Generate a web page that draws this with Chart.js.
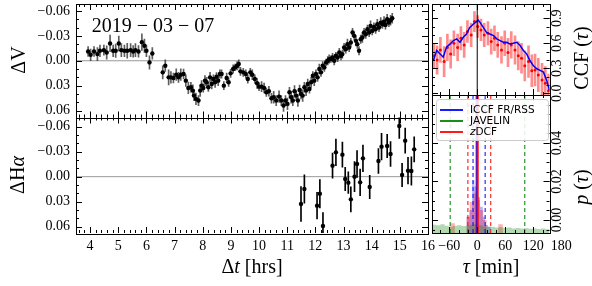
<!DOCTYPE html>
<html>
<head>
<meta charset="utf-8">
<script src="https://cdn.jsdelivr.net/npm/chart.js@4/dist/chart.umd.min.js"></script>
<style>
  body { margin: 0; background: #fff; }
  #wrap { position: relative; width: 592px; height: 286px; }
  #wrap canvas { position: absolute; left: 0; top: 0; }
</style>
</head>
<body>
<div id="wrap">
  <canvas id="cV" width="592" height="286"></canvas>
  <canvas id="cHa" width="592" height="286"></canvas>
  <canvas id="cCcf" width="592" height="286"></canvas>
  <canvas id="cP" width="592" height="286"></canvas>
</div>
<script>
// light curve, V band (hours, mag)
const timeV = [3.93,4.02,4.14,4.26,4.35,4.49,4.59,4.71,4.82,4.91,5.02,5.11,5.22,5.32,5.44,5.53,5.61,5.72,5.84,5.93,6.00,6.11,6.21,
  6.58,6.67,6.79,6.87,6.96,7.06,7.14,7.22,7.32,7.40,7.49,7.58,7.65,7.69,7.76,7.85,7.91,7.96,8.02,8.08,
  8.14,8.20,8.26,8.32,8.38,8.44,8.49,8.55,8.61,8.67,8.75,8.85,8.92,8.99,9.08,9.15,9.22,9.28,9.34,9.44,
  9.53,9.60,9.69,9.76,9.85,9.93,10.00,10.09,10.18,10.26,10.35,10.44,10.52,10.61,10.71,10.79,10.87,10.94,
  11.01,11.08,11.14,11.20,11.26,11.32,11.38,11.44,11.49,11.55,11.61,11.67,11.73,11.79,11.85,11.91,11.96,
  12.02,12.08,12.14,12.20,12.26,12.32,12.38,12.44,12.49,12.55,12.61,12.67,12.73,12.79,12.85,12.91,12.96,
  13.02,13.08,13.14,13.20,13.26,13.32,13.38,13.44,13.49,13.55,13.61,13.67,13.73,13.79,13.85,13.91,13.96,
  14.02,14.08,14.14,14.20,14.26,14.32,14.38,14.44,14.49,14.55,14.61,14.67,14.73];
const dV = [-0.0112,-0.0072,-0.0112,-0.008,-0.012,-0.0128,-0.010,-0.0208,-0.012,-0.012,-0.0208,-0.0128,-0.012,-0.012,-0.0128,-0.0112,-0.0128,-0.0112,-0.0224,-0.018,-0.012,0.002,-0.0088,
  0.014,0.006,0.020,0.020,0.0208,0.0168,0.020,0.0168,0.016,0.024,0.0328,0.032,0.036,0.042,0.046,0.048,0.036,0.030,0.0328,0.024,
  0.026,0.032,0.020,0.028,0.022,0.026,0.0192,0.024,0.016,0.016,0.030,0.0208,0.026,0.0152,0.010,0.008,0.006,0.004,0.0128,0.014,
  0.016,0.022,0.014,0.0168,0.022,0.0272,0.0312,0.0312,0.0328,0.038,0.0368,0.0452,0.044,0.048,0.0432,0.048,0.054,0.048,
  0.052,0.038,0.044,0.048,0.0368,0.042,0.048,0.0352,0.040,0.042,0.032,0.036,0.028,0.034,0.026,0.018,0.024,
  0.016,0.020,0.010,0.014,0.006,0.008,0.002,0.0,-0.002,-0.002,-0.004,0.0,-0.006,-0.004,-0.010,-0.006,-0.008,
  -0.016,-0.014,-0.020,-0.016,-0.022,-0.034,-0.030,-0.024,-0.020,-0.012,-0.026,-0.028,-0.034,-0.032,-0.038,-0.034,-0.042,
  -0.036,-0.0408,-0.038,-0.044,-0.040,-0.046,-0.044,-0.0472,-0.0432,-0.050,-0.046,-0.0488,-0.0512];
const errV = [0.006,0.007,0.006,0.008,0.007,0.006,0.008,0.010,0.007,0.008,0.009,0.008,0.007,0.009,0.008,0.007,0.008,0.007,0.010,0.008,0.007,0.008,0.007,
  0.008,0.007,0.009,0.007,0.006,0.007,0.006,0.007,0.006,0.007,0.007,0.006,0.007,0.006,0.007,0.006,0.007,0.006,0.005,0.006,
  0.006,0.005,0.006,0.006,0.005,0.006,0.005,0.006,0.005,0.005,0.005,0.006,0.005,0.005,0.005,0.004,0.005,0.005,0.005,0.005,
  0.005,0.005,0.005,0.006,0.005,0.006,0.005,0.006,0.006,0.005,0.006,0.006,0.007,0.006,0.007,0.006,0.007,0.006,
  0.007,0.006,0.007,0.006,0.007,0.006,0.007,0.006,0.006,0.007,0.006,0.006,0.006,0.005,0.006,0.005,0.006,
  0.005,0.005,0.006,0.005,0.005,0.005,0.004,0.005,0.005,0.004,0.005,0.005,0.004,0.005,0.005,0.005,0.005,
  0.005,0.005,0.006,0.005,0.005,0.005,0.005,0.006,0.005,0.005,0.005,0.006,0.005,0.005,0.005,0.005,0.006,
  0.005,0.005,0.005,0.006,0.005,0.006,0.005,0.006,0.005,0.006,0.005,0.006,0.006];

// light curve, H-alpha
const timeHa = [11.49,11.61,12.06,12.16,12.27,12.61,12.73,12.96,13.06,13.17,13.26,13.39,13.48,13.59,13.69,13.93,14.24,14.35,14.55,14.67,14.98,15.08,15.19,15.29,15.41,15.51];
const dHa = [0.0328,0.0148,0.0348,0.0204,0.0592,-0.0132,-0.0292,-0.0264,0.0028,0.0072,0.0272,0.0,-0.0152,0.0068,-0.022,0.0124,-0.0188,-0.036,-0.0368,-0.0272,-0.0608,-0.002,-0.0432,-0.0072,-0.0068,-0.0328];
const errHa = [0.021,0.017,0.016,0.017,0.016,0.015,0.016,0.015,0.014,0.013,0.015,0.018,0.016,0.016,0.016,0.014,0.015,0.016,0.014,0.015,0.015,0.014,0.015,0.016,0.017,0.015];

// cross correlation (lag in minutes)
const tauIccf = [-94,-87,-80,-73,-66,-58,-51,-44,-37,-30,-23,-16,-8,-1,2,6,13,20,27,35,42,49,56,63,70,77,85,92,99,106,113,120,128,135,142,149,155];
const ccfIccf = [0.393,0.513,0.473,0.433,0.552,0.592,0.632,0.652,0.612,0.671,0.711,0.790,0.831,0.862,0.878,0.850,0.790,0.731,0.711,0.691,0.652,0.632,0.612,0.612,0.592,0.600,0.612,0.572,0.513,0.473,0.393,0.334,0.294,0.274,0.254,0.155,0.036];
const tauZ = [-93,-86,-79,-71,-64,-57,-50,-42,-35,-28,-21,-13,-6,1,8,15,23,30,37,44,52,59,66,73,81,88,95,102,110,117,124,131,139,146,153];
const ccfZ = [0.45,0.40,0.52,0.38,0.55,0.47,0.60,0.55,0.66,0.58,0.74,0.70,0.86,0.80,0.76,0.70,0.72,0.62,0.66,0.58,0.52,0.60,0.49,0.58,0.52,0.45,0.42,0.33,0.38,0.27,0.28,0.22,0.16,0.12,0.03];
const errZ = [0.15,0.17,0.15,0.18,0.16,0.17,0.15,0.16,0.14,0.15,0.13,0.14,0.12,0.13,0.13,0.14,0.14,0.15,0.15,0.15,0.16,0.15,0.17,0.16,0.17,0.17,0.18,0.18,0.19,0.19,0.19,0.20,0.20,0.20,0.20];

// lag distributions
const binIccf = [-23,-17,-11,-6,0,6,12,17,23,29];
const histIccf = [0.0017,0.0052,0.0205,0.0174,0.0118,0.0069,0.0017,-0.0026,-0.0036];
const binZ = [-58,-48,-23,-16,-8,-1,6,13,20,45,55];
const histZ = [-0.0017,-0.0068,0.0017,0.0095,0.0139,0.0104,0.0052,0.0,-0.0068,-0.0022];
const binJav = [-97,-88,-79,-70,-61,-52,-43,-34,-25,-16,-7,2,11,20,29,38,47,56,65,74,83,92,101,110,119,128,137,146,155];
const histJav = [-0.0025,-0.0028,-0.0022,-0.003,-0.0035,-0.003,-0.0028,-0.0032,-0.003,-0.0025,-0.002,-0.0028,-0.0033,-0.0036,-0.0035,-0.004,-0.0038,-0.0042,-0.004,-0.0045,-0.0042,-0.0045,-0.0043,-0.0046,-0.0044,-0.0047,-0.0045,-0.0048];
// [low, median, high] lag in minutes
const lagIccf = [-9, -2, 17];
const lagJav = [-58, 1, 102];
const lagZ = [-20, 1, 29];
const ccfMark = 0;

const hrTicks = [4,5,6,7,8,9,10,11,12,13,14,15,16];
const magTicks = [-0.06,-0.03,0,0.03,0.06];
const tauTicks = [-60,0,60,120,180];
const ccfTicks = [0,0.3,0.6,0.9];
const pTicks = [0,0.02,0.04];

const serif = "'Liberation Serif', 'DejaVu Serif', serif";
const sans = "'DejaVu Sans', sans-serif";
const pMin = -0.0068, pMax = 0.065;
const tauMin = -97, tauMax = 155;

function fmt(v, d) { return (v < 0 ? '\u2212' : '') + Math.abs(v).toFixed(d); }

function drawParts(ctx, parts, x, y, rot) {
  ctx.save();
  ctx.translate(x, y);
  if (rot) ctx.rotate(-Math.PI / 2);
  let w = 0;
  for (const [s, f] of parts) { ctx.font = f; w += ctx.measureText(s).width; }
  let cx = -w / 2;
  ctx.textAlign = 'left';
  for (const [s, f] of parts) { ctx.font = f; ctx.fillText(s, cx, 0); cx += ctx.measureText(s).width; }
  ctx.restore();
}

const decor = {
  id: 'decor',
  afterDatasetsDraw(chart, args, o) {
    const ctx = chart.ctx, a = chart.chartArea;
    const xs = chart.scales.x, ys = chart.scales.y;
    ctx.save();
    ctx.strokeStyle = '#000';
    ctx.lineWidth = 1;
    ctx.beginPath();
    const mk = (scale, step, majors) => {
      const out = [];
      for (let v = Math.ceil(scale.min / step - 1e-6) * step; v <= scale.max + 1e-9; v += step) out.push([v, 3]);
      for (const v of majors) out.push([v, 6]);
      return out;
    };
    for (const [v, len] of mk(xs, o.xMinor, o.xMajor)) {
      const px = Math.round(xs.getPixelForValue(v)) + 0.5;
      if (px < a.left || px > a.right) continue;
      ctx.moveTo(px, a.bottom); ctx.lineTo(px, a.bottom - len);
      ctx.moveTo(px, a.top); ctx.lineTo(px, a.top + len);
    }
    for (const [v, len] of mk(ys, o.yMinor, o.yMajor)) {
      const py = Math.round(ys.getPixelForValue(v)) + 0.5;
      if (py < a.top || py > a.bottom) continue;
      ctx.moveTo(a.left, py); ctx.lineTo(a.left + len, py);
      ctx.moveTo(a.right, py); ctx.lineTo(a.right - len, py);
    }
    ctx.stroke();
    ctx.strokeRect(Math.round(a.left) + 0.5, Math.round(a.top) + 0.5, Math.round(a.right - a.left), Math.round(a.bottom - a.top));
    ctx.fillStyle = '#000';
    ctx.textBaseline = 'middle';
    if (o.rightTicks) {
      for (const v of o.rightTicks) {
        drawParts(ctx, [[fmt(v, o.rightDigits), '14px ' + serif]], o.rightX, ys.getPixelForValue(v), true);
      }
    }
    for (const t of (o.texts || [])) {
      ctx.textBaseline = t.base || 'alphabetic';
      drawParts(ctx, t.parts, t.x, t.y, t.rot);
    }
    if (o.legend) {
      const L = o.legend;
      ctx.fillStyle = 'rgba(255,255,255,0.85)';
      ctx.strokeStyle = '#cccccc';
      ctx.beginPath();
      ctx.roundRect(L.x + 0.5, L.y + 0.5, L.w, L.h, 3);
      ctx.fill(); ctx.stroke();
      L.items.forEach((it, i) => {
        const y = L.y + 11 + i * 11;
        ctx.strokeStyle = it.color; ctx.lineWidth = 1.8;
        ctx.beginPath(); ctx.moveTo(L.x + 4, y); ctx.lineTo(L.x + 27, y); ctx.stroke();
        ctx.fillStyle = '#000'; ctx.textBaseline = 'middle'; ctx.textAlign = 'left';
        let cx = L.x + 34;
        for (const [s, f] of it.parts) { ctx.font = f; ctx.fillText(s, cx, y); cx += ctx.measureText(s).width; }
      });
    }
    ctx.restore();
  }
};

// size = thickness of the axis box (labels are clipped to it)
function axis(min, max, ticks, size, opts) {
  return Object.assign({
    type: 'linear', min: min, max: max, offset: false,
    grid: { display: false, drawTicks: false, offset: false },
    border: { display: false },
    ticks: { display: false },
    afterBuildTicks: s => { s.ticks = ticks.map(v => ({ value: v })); },
    afterFit: s => {
      if (s.isHorizontal()) s.height = size; else s.width = size;
      s.paddingLeft = s.paddingRight = s.paddingTop = s.paddingBottom = 0;
    }
  }, opts);
}

function errBars(xs, ys, es, color, w) {
  return {
    type: 'bar', order: 3, grouped: false, barThickness: w, backgroundColor: color,
    data: xs.map((x, i) => ({ x: x, y: [ys[i] - es[i], ys[i] + es[i]] }))
  };
}
function dots(xs, ys, color, r) {
  return {
    type: 'scatter', order: 1, pointRadius: r, pointBackgroundColor: color, pointBorderWidth: 0,
    data: xs.map((x, i) => ({ x: x, y: ys[i] }))
  };
}
function hline(x0, x1, y, color) {
  return { type: 'line', order: 4, data: [{ x: x0, y: y }, { x: x1, y: y }], borderColor: color, borderWidth: 1, pointRadius: 0 };
}
function vline(x, y0, y1, color, dash, w) {
  return { type: 'line', order: 0, data: [{ x: x, y: y0 }, { x: x, y: y1 }], borderColor: color, borderDash: dash, borderWidth: w, pointRadius: 0 };
}
function hist(edges, h, color) {
  return {
    type: 'line', order: 5, stepped: 'before', pointRadius: 0, borderWidth: 1, borderColor: 'rgba(0,0,0,0)',
    backgroundColor: color, fill: { value: pMin },
    data: edges.map((e, i) => ({ x: e, y: h[Math.min(i, h.length - 1)] }))
  };
}

// pad = [left, top, right, bottom] outside the axis boxes
function make(id, pad, datasets, scales, deco) {
  return new Chart(document.getElementById(id), {
    type: 'scatter',
    data: { datasets: datasets },
    options: {
      responsive: false, animation: false,
      layout: { padding: { left: pad[0], top: pad[1], right: pad[2], bottom: pad[3] } },
      scales: scales,
      plugins: { legend: { display: false }, tooltip: { enabled: false }, decor: deco }
    },
    plugins: [decor]
  });
}

const tickFont = { family: serif, size: 14 };
const big = '20px ' + serif, bigIt = 'italic 20px ' + serif;
const yLab = { display: true, padding: 6, color: '#000', font: tickFont, callback: v => fmt(v, 2) };

make('cV', [0, 3, 164, 168.5], [
  dots(timeV, dV, '#000', 2.2),
  errBars(timeV, dV, errV, 'rgba(40,40,40,0.75)', 1),
  hline(3.5, 16, 0, '#999999')
], {
  x: axis(3.5, 16, hrTicks, 0),
  y: axis(-0.0684, 0.0684, magTicks, 76, { reverse: true, ticks: yLab })
}, {
  xMinor: 0.2, xMajor: hrTicks, yMinor: 0.01, yMajor: magTicks,
  texts: [
    { parts: [['2019 \u2212 03 \u2212 07', big]], x: 153, y: 31.5 },
    { parts: [['\u0394V', big]], x: 25, y: 60, rot: true }
  ]
});

make('cHa', [0, 117.5, 164, 0], [
  dots(timeHa, dHa, '#000', 2.2),
  errBars(timeHa, dHa, errHa, '#000', 1),
  hline(3.5, 16, 0, '#999999')
], {
  x: axis(3.5, 16, hrTicks, 53, { ticks: { display: true, autoSkip: false, maxRotation: 0, padding: 5, color: '#000', font: tickFont } }),
  y: axis(-0.071, 0.0676, magTicks, 76, { reverse: true, ticks: yLab })
}, {
  xMinor: 0.2, xMajor: hrTicks, yMinor: 0.01, yMajor: magTicks,
  texts: [
    { parts: [['\u0394H', big], ['\u03b1', bigIt]], x: 24, y: 175, rot: true },
    { parts: [['\u0394', big], ['t', bigIt], [' [hrs]', big]], x: 252, y: 273 }
  ]
});

make('cCcf', [432, 3, 42.5, 191], [
  { type: 'line', order: 1, data: tauIccf.map((t, i) => ({ x: t, y: ccfIccf[i] })), borderColor: '#0000ff', borderWidth: 1.5, pointRadius: 0, tension: 0 },
  dots(tauZ, ccfZ, '#ff0000', 1.5),
  errBars(tauZ, ccfZ, errZ, 'rgba(255,0,0,0.45)', 2),
  vline(ccfMark, -0.02, 1.07, '#000', [], 1)
], {
  x: axis(tauMin, tauMax, tauTicks, 0),
  y: axis(-0.02, 1.07, ccfTicks, 0)
}, {
  xMinor: 20, xMajor: tauTicks, yMinor: 0.1, yMajor: ccfTicks,
  rightTicks: ccfTicks, rightDigits: 1, rightX: 557,
  texts: [
    { parts: [['CCF (', big], ['\u03c4', bigIt], [')', big]], x: 583, y: 58, rot: true, base: 'middle' }
  ]
});

make('cP', [432, 95, 42.5, 0], [
  hist(binJav, histJav, 'rgba(0,128,0,0.3)'),
  hist(binZ, histZ, 'rgba(255,0,0,0.3)'),
  hist(binIccf, histIccf, 'rgba(0,0,255,0.3)'),
  vline(lagJav[0], pMin, pMax, '#008000', [4, 3], 1), vline(lagJav[2], pMin, pMax, '#008000', [4, 3], 1),
  vline(lagZ[0], pMin, pMax, '#ff0000', [4, 3], 1), vline(lagZ[2], pMin, pMax, '#ff0000', [4, 3], 1),
  vline(lagIccf[0], pMin, pMax, '#0000ff', [4, 3], 1), vline(lagIccf[2], pMin, pMax, '#0000ff', [4, 3], 1),
  vline(lagZ[1], pMin, pMax, '#ff0000', [], 2), vline(lagIccf[1], pMin, pMax, '#0000ff', [], 1.2)
], {
  x: axis(tauMin, tauMax, tauTicks, 53, { ticks: { display: true, autoSkip: false, maxRotation: 0, padding: 5, color: '#000', font: tickFont, callback: v => fmt(v, 0) } }),
  y: axis(pMin, pMax, pTicks, 0)
}, {
  xMinor: 20, xMajor: tauTicks, yMinor: 0.005, yMajor: pTicks,
  rightTicks: pTicks, rightDigits: 2, rightX: 557,
  texts: [
    { parts: [['p', bigIt], [' (', big], ['\u03c4', bigIt], [')', big]], x: 583, y: 187, rot: true, base: 'middle' },
    { parts: [['\u03c4', bigIt], [' [min]', big]], x: 491, y: 273 }
  ],
  legend: { x: 436, y: 99, w: 112, h: 41, items: [
    { color: '#0000ff', parts: [['ICCF FR/RSS', '10.5px ' + sans]] },
    { color: '#008000', parts: [['JAVELIN', '10.5px ' + sans]] },
    { color: '#ff0000', parts: [['z', 'italic 10.5px ' + sans], ['DCF', '10.5px ' + sans]] }
  ] }
});
</script>
</body>
</html>
